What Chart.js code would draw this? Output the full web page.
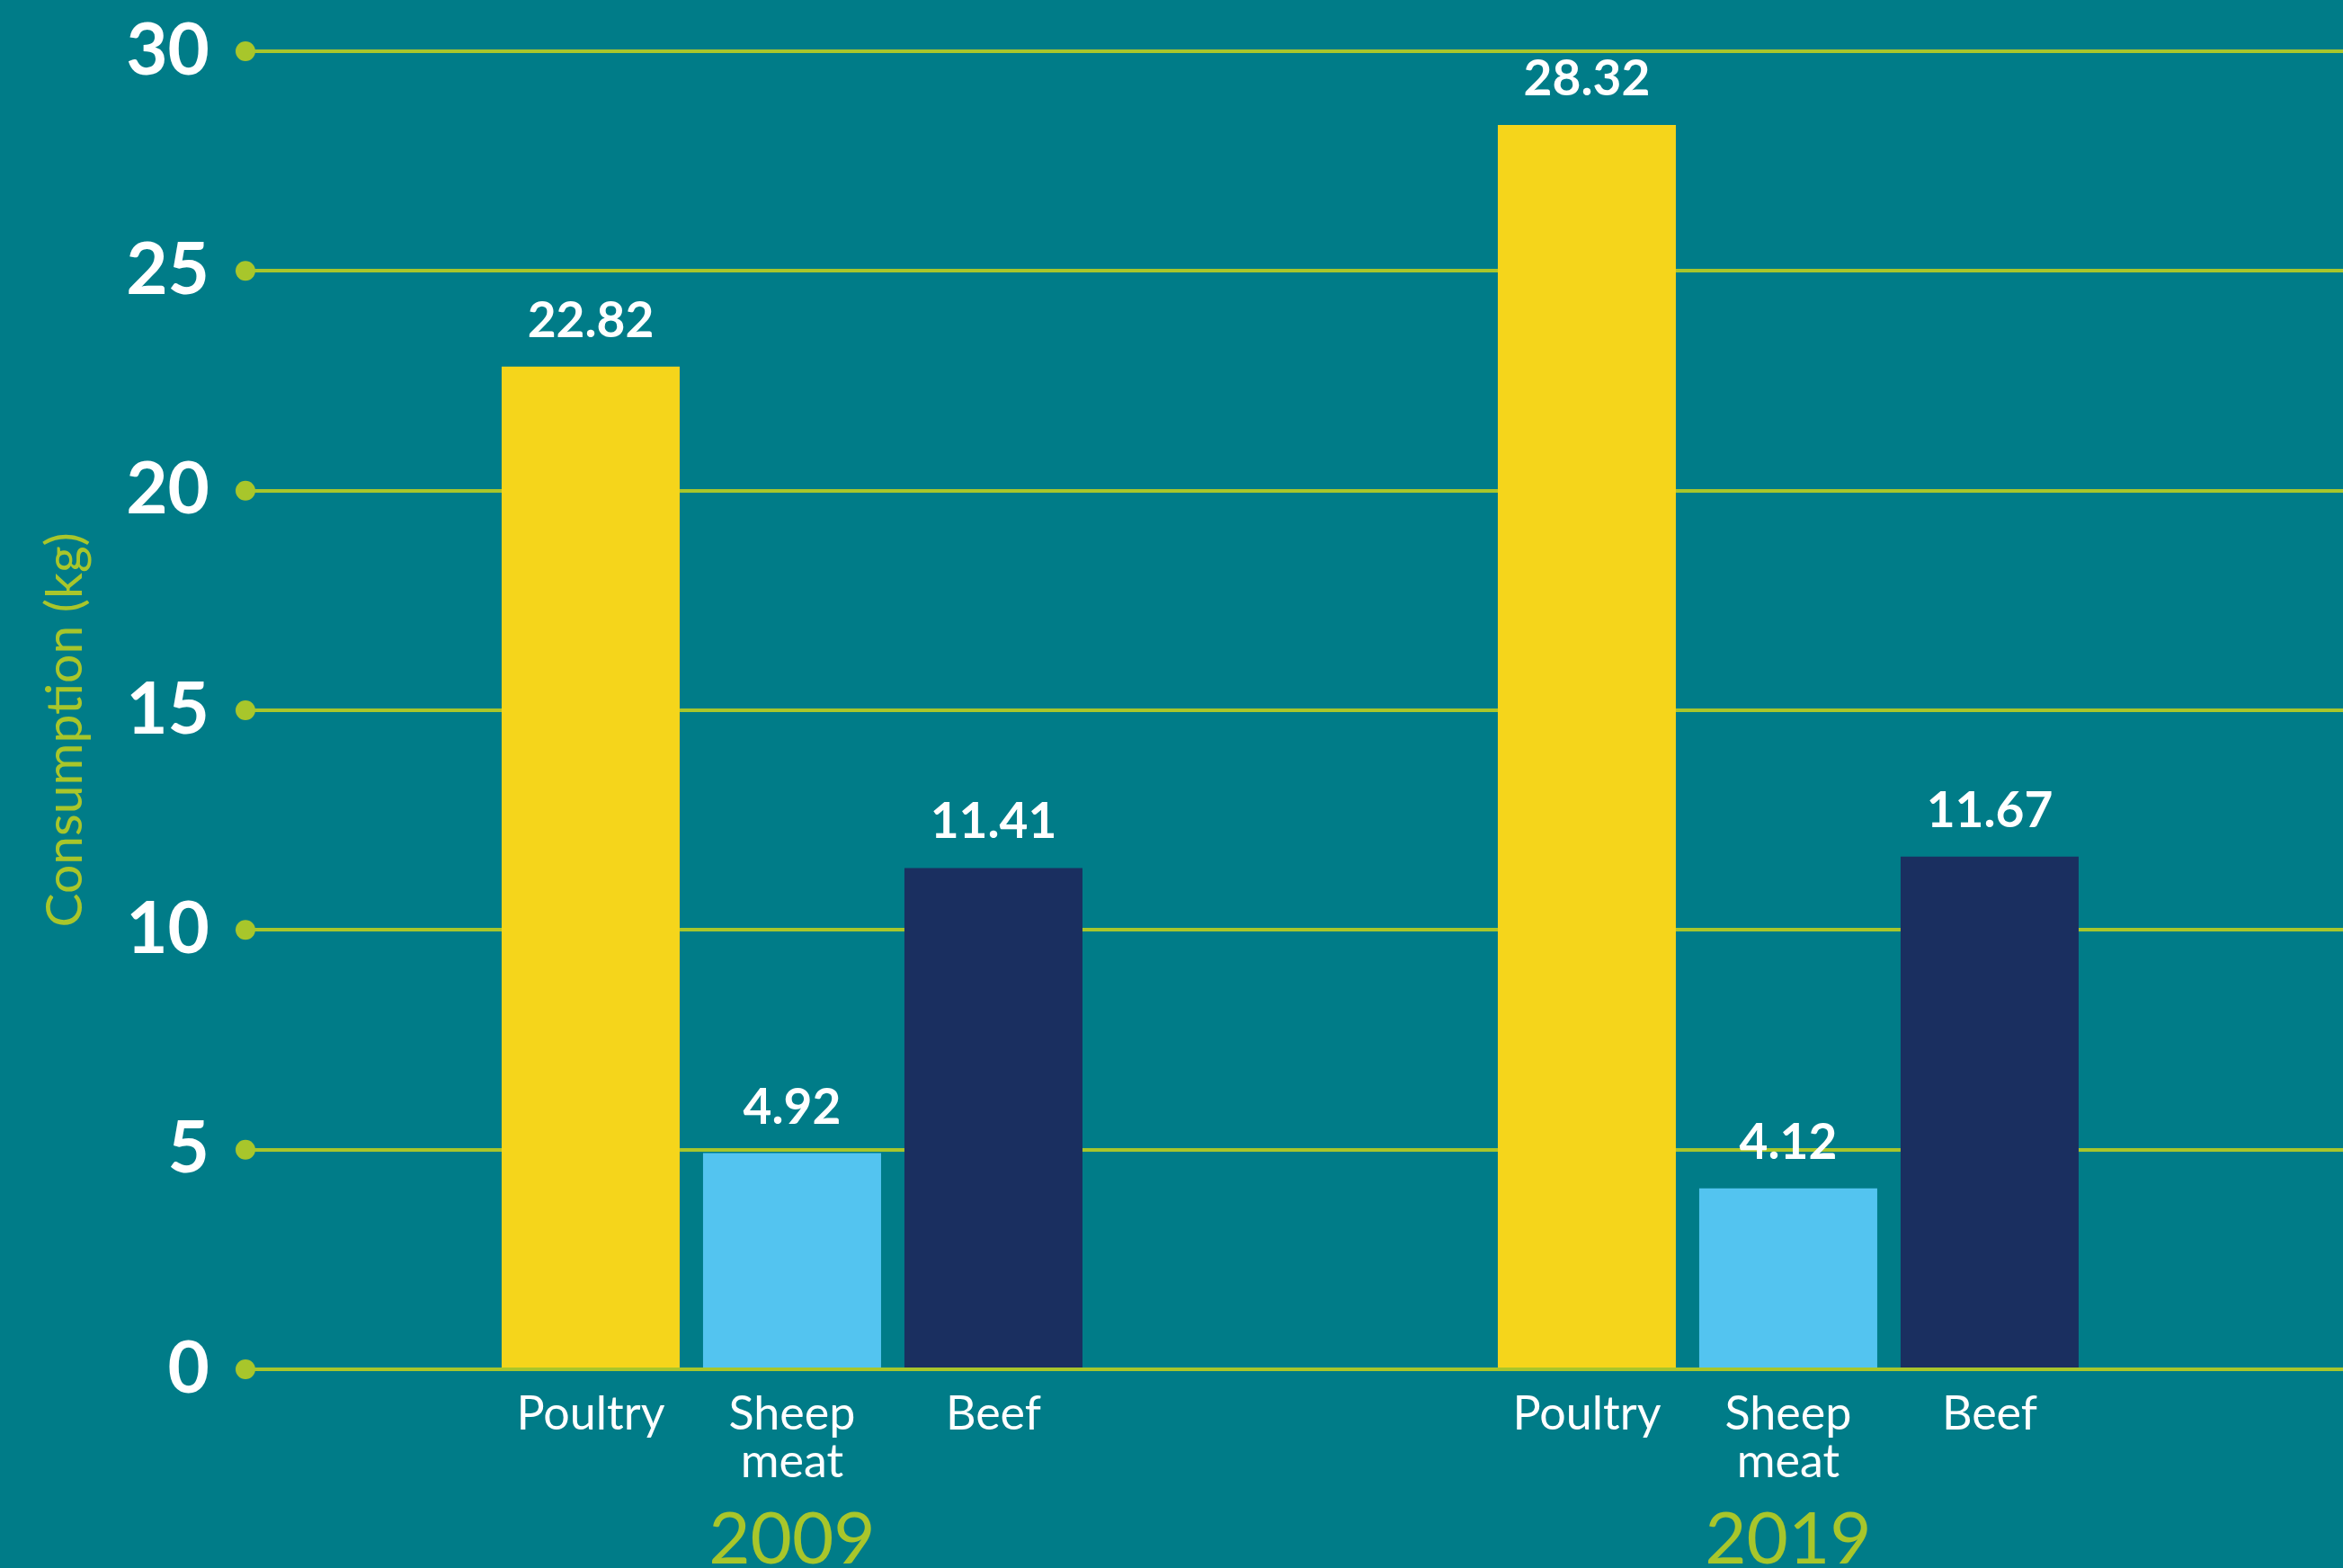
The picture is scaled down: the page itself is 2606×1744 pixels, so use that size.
<!DOCTYPE html>
<html lang="en">
<head>
    <meta charset="UTF-8">
    <title>Meat consumption 2009 vs 2019</title>
    <script src="https://cdn.jsdelivr.net/npm/chart.js"></script>
    <style>
        html, body {
            margin: 0;
            padding: 0;
            background-color: #007c88;
            overflow: hidden;
        }
        #meatChart {
            display: block;
        }
    </style>
</head>
<body>

<canvas id="meatChart" width="2606" height="1744"></canvas>

<script>
    // data
    const years = ['2009', '2019'];
    const meats = ['Poultry', 'Sheep meat', 'Beef'];
    const poultry = [22.82, 28.32];
    const sheepMeat = [4.92, 4.12];
    const beef = [11.41, 11.67];
    const barColors = ['#f5d51b', '#53c4f0', '#1a2f60'];

    const lime = '#a8c62b';
    const fontFamily = 'Lato, "Open Sans", sans-serif';

    // dots at the left end of each gridline
    const gridDots = {
        id: 'gridDots',
        beforeDatasetsDraw(chart) {
            const y = chart.scales.y;
            const ctx = chart.ctx;
            ctx.save();
            ctx.fillStyle = lime;
            y.ticks.forEach(t => {
                ctx.beginPath();
                ctx.arc(chart.chartArea.left, y.getPixelForValue(t.value), 11, 0, Math.PI * 2);
                ctx.fill();
            });
            ctx.restore();
        }
    };

    // values above bars, meat names under bars, years under groups
    const barText = {
        id: 'barText',
        afterDatasetsDraw(chart) {
            const ctx = chart.ctx;
            const x = chart.scales.x;
            const zero = chart.scales.y.getPixelForValue(0);
            ctx.save();
            ctx.textAlign = 'center';
            ctx.textBaseline = 'alphabetic';
            chart.data.datasets.forEach((ds, di) => {
                const meta = chart.getDatasetMeta(di);
                meta.data.forEach((bar, i) => {
                    ctx.fillStyle = '#ffffff';
                    ctx.font = 'bold 55px ' + fontFamily;
                    ctx.fillText(ds.data[i].y.toFixed(2), bar.x, bar.y - 33);

                    ctx.font = '52px ' + fontFamily;
                    ds.label.split(' ').forEach((word, li) => {
                        ctx.fillText(word, bar.x, zero + 67 + li * 53);
                    });
                });
            });
            ctx.fillStyle = lime;
            ctx.font = '80px ' + fontFamily;
            years.forEach((yr, i) => {
                ctx.fillText(yr, x.getPixelForValue(i), zero + 216);
            });
            ctx.restore();
        }
    };

    const series = [poultry, sheepMeat, beef];

    new Chart(document.getElementById('meatChart'), {
        type: 'bar',
        data: {
            datasets: meats.map((m, k) => ({
                label: m,
                data: series[k].map((v, i) => ({ x: i, y: v })),
                backgroundColor: barColors[k],
                borderWidth: 0,
                categoryPercentage: 0.6065,
                barPercentage: 0.884
            }))
        },
        options: {
            responsive: false,
            devicePixelRatio: 1,
            animation: false,
            layout: {
                padding: { top: 57, right: 0, bottom: 221, left: 0 }
            },
            plugins: {
                legend: { display: false },
                tooltip: { enabled: false }
            },
            scales: {
                x: {
                    type: 'linear',
                    display: false,
                    offset: false,
                    bounds: 'data',
                    min: -0.5487,
                    max: 1.5569,
                    // one tick per year so bar width follows the year spacing
                    afterBuildTicks(scale) {
                        scale.ticks = years.map((_, i) => ({ value: i }));
                    }
                },
                y: {
                    min: 0,
                    max: 30,
                    afterFit(scale) { scale.width = 273; },
                    border: { display: false },
                    grid: {
                        color: lime,
                        lineWidth: 4,
                        drawTicks: true,
                        tickLength: 40,
                        tickColor: 'rgba(0,0,0,0)'
                    },
                    ticks: {
                        stepSize: 5,
                        padding: 0,
                        color: '#ffffff',
                        font: { family: fontFamily, size: 80, weight: 'bold' }
                    },
                    title: {
                        display: true,
                        text: 'Consumption (kg)   ',
                        color: lime,
                        padding: { top: 38, bottom: 0 },
                        font: { family: fontFamily, size: 57, weight: 'normal' }
                    }
                }
            }
        },
        plugins: [gridDots, barText]
    });
</script>

</body>
</html>
